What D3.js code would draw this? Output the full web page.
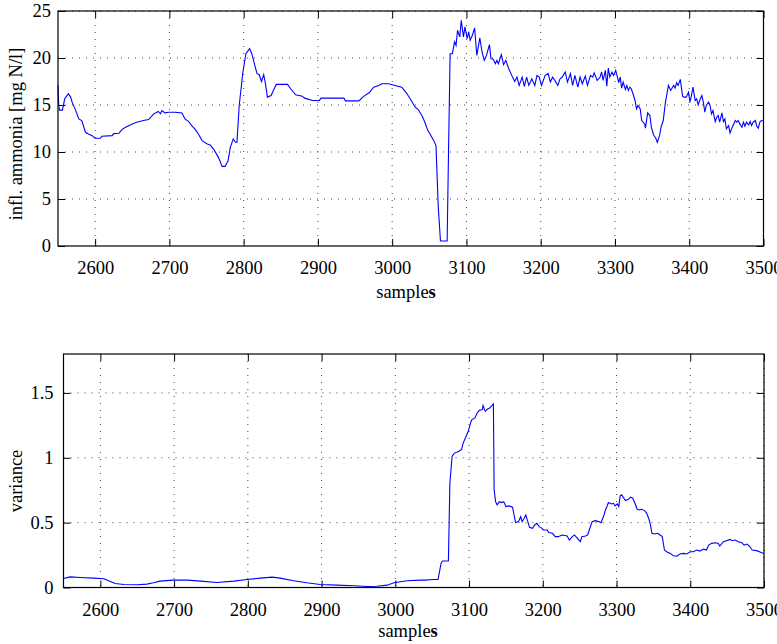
<!DOCTYPE html>
<html>
<head>
<meta charset="utf-8">
<title>ammonia and variance</title>
<script src="https://cdn.jsdelivr.net/npm/d3@7"></script>
<style>
    body{
        margin:0;
        background:#fff;
    }
    svg text{
        font-family:"Liberation Serif","Times New Roman",serif;
        font-size:18.5px;
        fill:#000;
    }
    .grid line{
        stroke:#444;
        stroke-width:1;
        stroke-dasharray:1 6;
    }
    .frame{
        fill:none;
        stroke:#000;
        stroke-width:1.2;
    }
    .trace{
        fill:none;
        stroke:#0000ff;
        stroke-width:1.1;
    }
</style>
</head>
<body>
<div id="chart"></div>
<script>

// influent ammonia
var ammSamples = [2550,2551,2552,2556,2559,2564,2567,2569,2573,2578,2582,2587,2591,2596,2600,2607,2609,2623,2625,2632,
    2636,2641,2650,2656,2665,2672,2679,2685,2688,2690,2694,2699,2708,2717,2721,2726,2730,2735,2739,2744,
    2751,2755,2760,2766,2771,2775,2779,2782,2786,2789,2791,2794,2799,2803,2808,2811,2815,2818,2821,2824,
    2827,2829,2832,2837,2840,2844,2859,2864,2870,2879,2882,2893,2902,2904,2935,2937,2955,2962,2969,2975,
    2982,2986,2995,3004,3013,3020,3027,3031,3035,3040,3044,3048,3051,3056,3059,3062,3065,3074,3076,3078,
    3081,3084,3086,3088,3091,3093,3096,3098,3101,3103,3105,3108,3111,3114,3118,3121,3124,3127,3131,3133,
    3136,3139,3141,3143,3147,3150,3153,3157,3161,3165,3168,3171,3175,3178,3181,3184,3188,3192,3195,3198,
    3201,3206,3210,3213,3216,3219,3223,3226,3229,3233,3236,3240,3243,3246,3250,3253,3256,3260,3263,3267,
    3270,3272,3276,3280,3282,3284,3287,3289,3291,3293,3296,3298,3301,3303,3305,3307,3309,3311,3314,3316,
    3318,3320,3322,3325,3327,3329,3331,3334,3336,3340,3341,3344,3347,3349,3352,3355,3357,3360,3362,3365,
    3368,3372,3375,3379,3381,3383,3385,3388,3391,3393,3396,3399,3401,3403,3405,3408,3410,3412,3414,3417,
    3419,3421,3423,3426,3428,3430,3432,3435,3437,3439,3441,3444,3446,3448,3450,3453,3455,3457,3459,3462,
    3464,3466,3468,3471,3473,3475,3477,3480,3482,3484,3486,3489,3491,3493,3495,3497,3500]
var ammValues = [17.1,14.95,14.45,14.45,15.66,16.19,15.84,15.3,14.59,13.52,13.35,12.1,11.92,11.74,11.46,11.46,11.67,11.74,11.96,11.99,
    12.38,12.63,12.99,13.17,13.35,13.45,14.06,14.31,14.06,14.41,14.16,14.23,14.23,14.16,13.52,13.24,12.81,12.38,11.92,11.21,
    10.85,10.75,10.25,9.43,8.47,8.47,9.07,10.5,11.39,11.03,11.03,14.95,18.51,20.46,21.0,20.46,19.22,18.33,18.22,17.51,
    18.22,17.44,15.84,16.01,16.55,17.19,17.19,16.65,16.09,15.94,15.73,15.48,15.48,15.73,15.73,15.44,15.44,15.94,16.3,16.9,
    17.08,17.26,17.26,17.08,16.9,16.19,15.3,14.77,14.52,13.88,13.17,12.28,11.92,11.21,10.68,4.27,0.53,0.53,10.68,20.46,
    20.46,21.71,21.35,22.95,22.24,24.02,22.24,23.31,22.06,22.78,21.89,22.42,23.2,20.28,22.14,20.64,19.75,20.28,21.42,19.93,
    19.86,19.4,19.75,19.4,20.36,19.29,19.75,18.86,18.15,17.51,17.97,17.08,17.97,16.98,17.97,17.08,17.79,17.08,18.15,17.97,
    17.08,18.15,18.33,17.44,17.97,17.62,17.08,17.79,17.97,18.51,17.44,18.33,17.08,18.15,16.9,17.97,17.26,18.08,17.08,18.15,
    17.97,18.43,17.62,17.97,18.51,17.62,18.68,17.01,18.93,17.97,18.51,18.15,18.68,18.08,17.37,17.97,16.8,17.44,16.65,17.08,
    16.55,16.9,16.73,16.01,15.48,14.59,14.95,14.59,13.35,12.99,12.53,14.16,13.88,12.63,11.81,11.46,11.03,11.74,12.63,13.35,
    15.3,17.08,16.55,17.08,16.8,17.37,17.08,17.72,15.94,15.84,15.84,16.37,15.3,16.01,16.9,15.48,15.66,15.02,15.48,16.01,
    15.3,14.23,14.95,15.3,14.95,14.06,14.41,13.24,13.7,13.88,13.17,14.16,13.24,13.52,12.46,12.81,12.03,12.46,12.81,13.35,
    13.17,13.35,12.99,12.63,13.17,12.74,13.17,12.88,13.24,12.81,13.17,13.35,12.74,12.53,13.17,13.35,13.3]

// variance
var varSamples = [2550,2559,2573,2591,2605,2611,2620,2632,2650,2663,2672,2681,2699,2718,2736,2758,2781,2799,2817,2833,
    2844,2862,2880,2898,2921,2944,2962,2975,2989,2998,3016,3034,3041,3050,3058,3062,3064,3072,3074,3077,
    3080,3086,3090,3092,3095,3099,3102,3104,3108,3111,3114,3118,3119,3122,3125,3128,3131,3133,3134,3136,
    3138,3141,3144,3147,3150,3154,3159,3161,3163,3167,3170,3172,3174,3177,3179,3182,3186,3189,3192,3195,
    3199,3201,3206,3208,3213,3217,3221,3226,3233,3236,3240,3243,3247,3251,3253,3258,3261,3263,3267,3271,
    3276,3279,3283,3285,3287,3289,3293,3296,3298,3301,3303,3305,3307,3310,3312,3316,3319,3322,3325,3328,
    3331,3334,3338,3341,3344,3346,3348,3352,3356,3359,3362,3365,3368,3373,3377,3382,3386,3391,3395,3400,
    3404,3409,3413,3418,3422,3425,3429,3434,3438,3440,3445,3449,3454,3457,3461,3465,3470,3473,3477,3481,
    3484,3490,3497,3500]
var varValues = [0.07,0.082,0.077,0.072,0.067,0.052,0.031,0.023,0.021,0.026,0.036,0.049,0.057,0.057,0.049,0.039,0.049,0.062,0.072,0.08,
    0.072,0.052,0.036,0.023,0.018,0.013,0.008,0.01,0.018,0.036,0.052,0.057,0.057,0.062,0.062,0.186,0.204,0.204,0.804,1.01,
    1.036,1.049,1.067,1.113,1.152,1.204,1.268,1.294,1.307,1.345,1.366,1.371,1.402,1.358,1.376,1.384,1.402,1.415,0.753,0.662,
    0.637,0.662,0.655,0.662,0.624,0.629,0.619,0.559,0.5,0.508,0.546,0.508,0.526,0.559,0.521,0.464,0.456,0.482,0.495,0.469,
    0.456,0.443,0.443,0.423,0.418,0.392,0.392,0.405,0.397,0.366,0.392,0.405,0.379,0.353,0.392,0.397,0.405,0.443,0.508,0.515,
    0.508,0.5,0.559,0.598,0.624,0.655,0.644,0.649,0.629,0.644,0.624,0.706,0.714,0.688,0.67,0.68,0.696,0.688,0.649,0.603,
    0.598,0.603,0.593,0.572,0.526,0.482,0.418,0.412,0.418,0.405,0.392,0.289,0.276,0.263,0.245,0.242,0.258,0.263,0.258,0.276,
    0.276,0.289,0.281,0.296,0.289,0.327,0.34,0.345,0.34,0.32,0.353,0.361,0.371,0.361,0.366,0.353,0.345,0.327,0.335,0.314,
    0.289,0.284,0.268,0.263]

var xTicks = [2600,2700,2800,2900,3000,3100,3200,3300,3400,3500]
var ammTicks = [0,5,10,15,20,25]
var varTicks = [0,0.5,1,1.5]
var varTickLabels = ["0","0.5","1","1.5"]

var width = 777, height = 644

var svg = d3.select("#chart").append("svg")
    .attr("width",width)
    .attr("height",height)

function drawPanel(opt){
    var g = svg.append("g")
    var x = d3.scaleLinear().domain([2550,3500]).range([opt.left,opt.right])
    var y = d3.scaleLinear().domain(opt.yDomain).range([opt.bottom,opt.top])

    // dotted grid
    var grid = g.append("g").attr("class","grid")
    grid.selectAll(".gx").data(xTicks).enter().append("line")
        .attr("x1",function(d){ return x(d) }).attr("x2",function(d){ return x(d) })
        .attr("y1",opt.top).attr("y2",opt.bottom)
    grid.selectAll(".gy").data(opt.yTicks.filter(function(d){ return d>opt.yDomain[0] })).enter().append("line")
        .attr("y1",function(d){ return y(d) }).attr("y2",function(d){ return y(d) })
        .attr("x1",opt.left).attr("x2",opt.right)

    // ticks pointing inward on all four sides
    var xb = g.append("g").attr("transform","translate(0,"+opt.bottom+")")
        .call(d3.axisBottom(x).tickValues(xTicks).tickSizeInner(-7).tickSizeOuter(0).tickPadding(15).tickFormat(d3.format("d")))
    var xt = g.append("g").attr("transform","translate(0,"+opt.top+")")
        .call(d3.axisTop(x).tickValues(xTicks).tickSizeInner(-7).tickSizeOuter(0).tickFormat(""))
    var yl = g.append("g").attr("transform","translate("+opt.left+",0)")
        .call(d3.axisLeft(y).tickValues(opt.yTicks).tickSizeInner(-7).tickSizeOuter(0).tickPadding(opt.yPad)
            .tickFormat(function(d,i){ return opt.yLabels[i] }))
    var yr = g.append("g").attr("transform","translate("+opt.right+",0)")
        .call(d3.axisRight(y).tickValues(opt.yTicks).tickSizeInner(-7).tickSizeOuter(0).tickFormat(""))
    ;[xb,xt,yl,yr].forEach(function(a){
        a.select(".domain").remove()
        a.selectAll("line").attr("stroke","#000").attr("stroke-width",1)
        a.selectAll("text").attr("font-family",null).attr("font-size",null)
    })

    var line = d3.line()
        .x(function(d){ return x(d[0]) })
        .y(function(d){ return y(d[1]) })
    g.append("path")
        .attr("class","trace")
        .attr("d",line(d3.zip(opt.xs,opt.ys)))

    g.append("rect").attr("class","frame")
        .attr("x",opt.left).attr("y",opt.top)
        .attr("width",opt.right-opt.left).attr("height",opt.bottom-opt.top)

    var xl = g.append("text")
        .attr("x",opt.xLabelX).attr("y",opt.xLabelY)
        .attr("text-anchor","middle")
    xl.append("tspan").text("sample")
    xl.append("tspan").attr("font-weight","bold").text("s")

    g.append("text")
        .attr("transform","translate("+opt.yLabelX+","+opt.yLabelY+") rotate(-90)")
        .attr("text-anchor","middle")
        .text(opt.yTitle)
}

drawPanel({
    left:58, right:763.5, top:11, bottom:246,
    yDomain:[0,25], yTicks:ammTicks, yLabels:ammTicks.map(String), yPad:7,
    xs:ammSamples, ys:ammValues,
    xLabelX:406, xLabelY:298,
    yLabelX:22, yLabelY:134,
    yTitle:"infl. ammonia [mg N/l]"
})

drawPanel({
    left:63.5, right:764, top:354, bottom:587.5,
    yDomain:[0,1.8], yTicks:varTicks, yLabels:varTickLabels, yPad:10,
    xs:varSamples, ys:varValues,
    xLabelX:408, xLabelY:637,
    yLabelX:22, yLabelY:481,
    yTitle:"variance"
})

</script>
</body>
</html>
